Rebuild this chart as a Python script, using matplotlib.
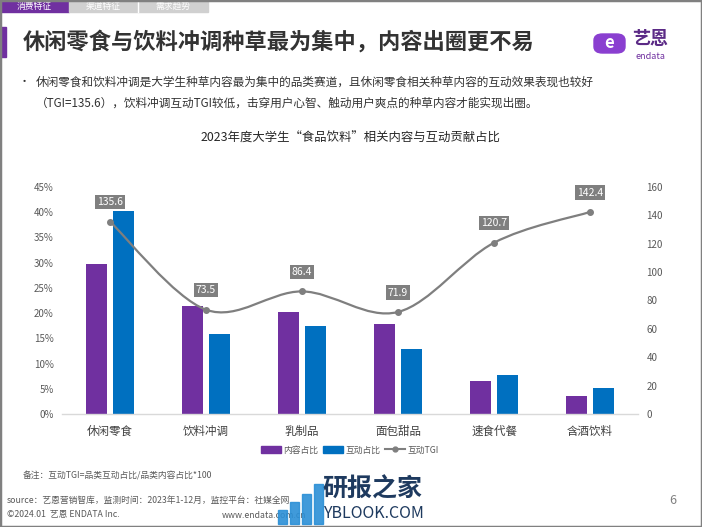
import matplotlib
matplotlib.use("Agg")
import matplotlib.pyplot as plt
from matplotlib.patches import Rectangle, Patch, FancyBboxPatch, PathPatch
from matplotlib.lines import Line2D
from matplotlib.path import Path
import numpy as np

plt.rcParams['font.family'] = ['Noto Sans CJK SC', 'DejaVu Sans']

categories = ["休闲零食", "饮料冲调", "乳制品", "面包甜品", "速食代餐", "含酒饮料"]
content_share = [29.7, 21.4, 20.2, 17.8, 6.5, 3.6]
interact_share = [40.2, 15.8, 17.5, 12.8, 7.8, 5.2]
tgi = [135.6, 73.5, 86.4, 71.9, 120.7, 142.4]
left_ticks = [0, 5, 10, 15, 20, 25, 30, 35, 40, 45]
right_ticks = [0, 20, 40, 60, 80, 100, 120, 140, 160]

PURPLE = "#7030A0"
BLUE = "#0070C0"
GREY = "#7F7F7F"
TXT = "#595959"

W, H = 702, 527
fig = plt.figure(figsize=(W / 100, H / 100), dpi=100)

def fx(px):
    return px / W

def fy(py):
    return 1 - py / H

# ---- slide decorations ----
fig.patches.append(Rectangle((0, fy(12)), fx(69), 12 / H, transform=fig.transFigure,
                             color="#7030A0", zorder=1))
fig.patches.append(Rectangle((fx(69), fy(12)), fx(139), 12 / H, transform=fig.transFigure,
                             color="#D0D0D0", zorder=1))
fig.add_artist(Line2D([fx(138), fx(138)], [fy(0), fy(12)], color="white", lw=1))
fig.text(fx(34.5), fy(6), "消费特征", color="white", fontsize=6.3, ha="center", va="center")
fig.text(fx(103.5), fy(6), "渠道特征", color="white", fontsize=6.3, ha="center", va="center")
fig.text(fx(173), fy(6), "需求趋势", color="white", fontsize=6.3, ha="center", va="center")

fig.patches.append(Rectangle((0, fy(57)), fx(6), 30 / H, transform=fig.transFigure,
                             color="#7030A0", zorder=1))
fig.text(fx(23), fy(42), "休闲零食与饮料冲调种草最为集中，内容出圈更不易", fontsize=16,
         fontweight="bold", color="#333333", ha="left", va="center")

# logo
fig.patches.append(FancyBboxPatch((fx(594), fy(53)), fx(31), 19 / H,
                                  boxstyle="round,pad=0,rounding_size=0.012",
                                  transform=fig.transFigure, color="#8A3FD0", zorder=2))
fig.text(fx(609.5), fy(43.5), "e", color="white", fontsize=12, fontweight="bold",
         ha="center", va="center", zorder=3)
fig.text(fx(650), fy(39), "艺恩", color="#5B2A86", fontsize=13, fontweight="bold",
         ha="center", va="center")
fig.text(fx(650), fy(56.5), "endata", color="#7030A0", fontsize=6.5, ha="center", va="center")

# bullet text
fig.text(fx(24), fy(82), "•", fontsize=8, color="#333333", ha="center", va="center")
fig.text(fx(36), fy(82), "休闲零食和饮料冲调是大学生种草内容最为集中的品类赛道，且休闲零食相关种草内容的互动效果表现也较好",
         fontsize=8.4, color="#333333", ha="left", va="center")
fig.text(fx(36), fy(103), "（TGI=135.6），饮料冲调互动TGI较低，击穿用户心智、触动用户爽点的种草内容才能实现出圈。",
         fontsize=8.4, color="#333333", ha="left", va="center")

fig.text(fx(350), fy(138), "2023年度大学生“食品饮料”相关内容与互动贡献占比",
         fontsize=8.9, color="#262626", ha="center", va="center")

# ---- chart ----
ax = fig.add_axes([fx(62), fy(414), fx(576), 227 / H])
x = np.arange(len(categories))
bw = 0.222
off = 0.143
ax.bar(x - off, content_share, width=bw, color=PURPLE, zorder=2)
ax.bar(x + off, interact_share, width=bw, color=BLUE, zorder=2)
ax.set_xlim(-0.5, len(categories) - 0.5)
ax.set_ylim(0, 45)
ax.set_yticks(left_ticks)
ax.set_yticklabels([f"{t}%" for t in left_ticks])
ax.set_xticks(x)
ax.set_xticklabels(categories)
ax.tick_params(axis="y", length=0, labelsize=7, labelcolor=TXT, pad=6)
ax.tick_params(axis="x", length=0, labelsize=8.3, labelcolor="#404040", pad=8)
for s in ["top", "right", "left"]:
    ax.spines[s].set_visible(False)
ax.spines["bottom"].set_color("#D9D9D9")
ax.spines["bottom"].set_linewidth(1)
ax.patch.set_alpha(0)

ax2 = ax.twinx()
ax2.set_ylim(0, 160)
ax2.set_yticks(right_ticks)
ax2.tick_params(axis="y", length=0, labelsize=7, labelcolor=TXT, pad=6)
for s in ["top", "right", "left", "bottom"]:
    ax2.spines[s].set_visible(False)

# smooth curve via Catmull-Rom -> Bezier
pts = np.column_stack([x.astype(float), np.array(tgi, dtype=float)])
ext = np.vstack([pts[0], pts, pts[-1]])
verts = [tuple(pts[0])]
codes = [Path.MOVETO]
for i in range(len(pts) - 1):
    p0, p1, p2, p3 = ext[i], ext[i + 1], ext[i + 2], ext[i + 3]
    c1 = p1 + (p2 - p0) / 6.0
    c2 = p2 - (p3 - p1) / 6.0
    verts += [tuple(c1), tuple(c2), tuple(p2)]
    codes += [Path.CURVE4] * 3
ax2.add_patch(PathPatch(Path(verts, codes), fill=False, edgecolor=GREY, lw=1.6, zorder=3))
ax2.plot(x, tgi, linestyle="none", marker="o", markersize=4, color=GREY, zorder=4)
for xi, v in zip(x, tgi):
    ax2.annotate(f"{v}", (xi, v), xytext=(0, 14), textcoords="offset points",
                 ha="center", va="center", fontsize=7.5, color="white",
                 bbox=dict(boxstyle="square,pad=0.2", fc=GREY, ec="none"), zorder=5)

# legend
handles = [Patch(color=PURPLE, label="内容占比"), Patch(color=BLUE, label="互动占比"),
           Line2D([0], [0], color=GREY, lw=1.5, marker="o", markersize=3.5, label="互动TGI")]
fig.legend(handles=handles, loc="center", bbox_to_anchor=(fx(350), fy(450)), ncol=3,
           frameon=False, fontsize=6.3, handlelength=2.3, handleheight=0.7,
           handletextpad=0.3, columnspacing=0.5, labelcolor=TXT)

# footer
fig.text(fx(23), fy(476), "备注：互动TGI=品类互动占比/品类内容占比*100", fontsize=6.3,
         color=TXT, ha="left", va="center")
fig.text(fx(7), fy(500), "source：艺恩营销智库，监测时间：2023年1-12月，监控平台：社媒全网", fontsize=6.3,
         color=TXT, ha="left", va="center")
fig.text(fx(7), fy(515), "©2024.01  艺恩 ENDATA Inc.", fontsize=6.3, color=TXT,
         ha="left", va="center")
fig.text(fx(222), fy(515), "www.endata.com.cn", fontsize=6.3, color=TXT, ha="left", va="center")
fig.text(fx(669), fy(500), "6", fontsize=9, color="#808080", ha="left", va="center")

# watermark
for i, (bx, bh) in enumerate([(278, 14), (290, 22), (302, 30), (314, 40)]):
    fig.patches.append(Rectangle((fx(bx), fy(524)), fx(9), bh / H, transform=fig.transFigure,
                                 color="#2B8FD6", alpha=0.9, zorder=6))
fig.text(fx(322), fy(489), "研报之家", fontsize=18, fontweight="bold", color="#1E3A5F",
         ha="left", va="center", zorder=7)
fig.text(fx(323), fy(513), "YBLOOK.COM", fontsize=11.5, color="#1E3A5F",
         ha="left", va="center", zorder=7)

# border
fig.patches.append(Rectangle((0, 0), 1, 1, transform=fig.transFigure, fill=False,
                             ec="#808080", lw=2.5, zorder=10))

fig.savefig("out.png", dpi=100)
